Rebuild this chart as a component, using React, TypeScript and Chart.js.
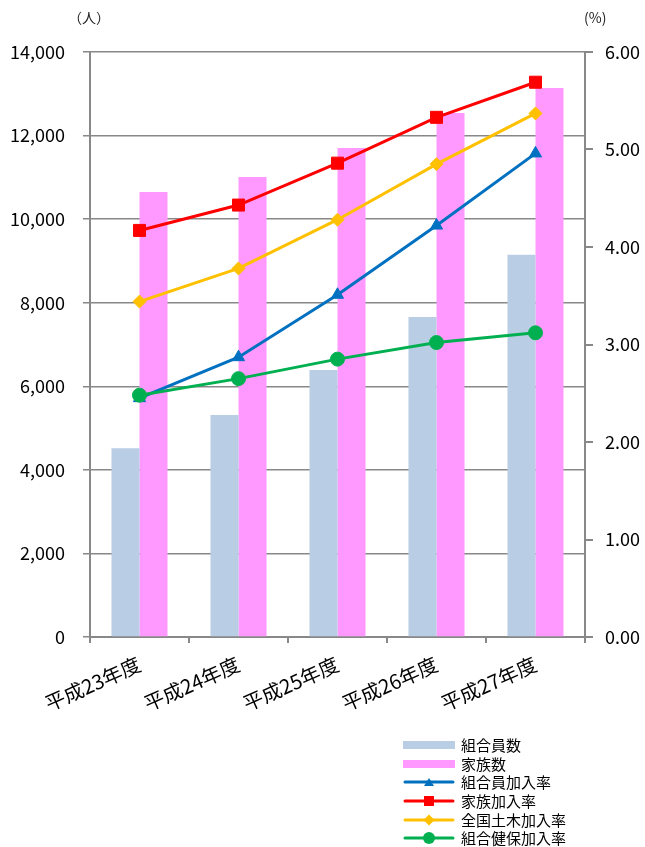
import React, { useEffect, useRef } from "react";
import { Chart, registerables } from "chart.js";

Chart.register(...registerables);

const categories = ["平成23年度", "平成24年度", "平成25年度", "平成26年度", "平成27年度"];
const memberCount = [4520, 5310, 6390, 7660, 9150];
const familyCount = [10650, 11010, 11700, 12540, 13140];
const memberRate = [2.45, 2.87, 3.51, 4.22, 4.96];
const familyRate = [4.17, 4.43, 4.86, 5.33, 5.69];
const nationalRate = [3.44, 3.78, 4.28, 4.85, 5.37];
const healthRate = [2.48, 2.65, 2.85, 3.02, 3.12];
const leftTicks = { min: 0, max: 14000, step: 2000 };
const rightTicks = { min: 0, max: 6, step: 1 };

const FONT = '"Noto Sans CJK JP", "Noto Sans", sans-serif';
const AXIS = "#888888";

const legendItems = [
  { label: "組合員数", color: "#B9CDE5", kind: "bar" },
  { label: "家族数", color: "#FF99FF", kind: "bar" },
  { label: "組合員加入率", color: "#0070C0", kind: "triangle" },
  { label: "家族加入率", color: "#FF0000", kind: "rect" },
  { label: "全国土木加入率", color: "#FFC000", kind: "diamond" },
  { label: "組合健保加入率", color: "#00B050", kind: "circle" },
];

function Marker({ kind, color }: { kind: string; color: string }) {
  if (kind === "bar") {
    return (
      <svg width={52} height={14}>
        <rect x={0} y={3} width={52} height={8} fill={color} />
      </svg>
    );
  }
  let shape: any = null;
  if (kind === "triangle") shape = <polygon points="26,3 31,11 21,11" fill={color} />;
  if (kind === "rect") shape = <rect x={21} y={2} width={10} height={10} fill={color} />;
  if (kind === "diamond") shape = <polygon points="26,1.5 31.5,7 26,12.5 20.5,7" fill={color} />;
  if (kind === "circle") shape = <circle cx={26} cy={7} r={6} fill={color} />;
  return (
    <svg width={52} height={14}>
      <line x1={2} y1={7} x2={50} y2={7} stroke={color} strokeWidth={3} strokeLinecap="round" />
      {shape}
    </svg>
  );
}

export default function App() {
  const ref = useRef<HTMLCanvasElement | null>(null);

  useEffect(() => {
    if (!ref.current) return;
    const lineDs = (label: string, data: number[], color: string, style: any, radius: number, order: number) => ({
      type: "line" as const,
      label,
      data,
      yAxisID: "y1",
      borderColor: color,
      backgroundColor: color,
      pointBackgroundColor: color,
      pointBorderColor: color,
      pointStyle: style,
      pointRadius: radius,
      pointBorderWidth: 1,
      borderWidth: 3,
      tension: 0,
      order,
    });
    const chart = new Chart(ref.current, {
      type: "bar",
      data: {
        labels: categories,
        datasets: [
          lineDs("組合健保加入率", healthRate, "#00B050", "circle", 7, 1),
          lineDs("全国土木加入率", nationalRate, "#FFC000", "rectRot", 6.5, 2),
          lineDs("家族加入率", familyRate, "#FF0000", "rect", 8.5, 3),
          lineDs("組合員加入率", memberRate, "#0070C0", "triangle", 7, 4),
          {
            type: "bar" as const,
            label: "組合員数",
            data: memberCount,
            yAxisID: "y",
            backgroundColor: "#B9CDE5",
            categoryPercentage: 0.566,
            barPercentage: 1.0,
            order: 10,
          },
          {
            type: "bar" as const,
            label: "家族数",
            data: familyCount,
            yAxisID: "y",
            backgroundColor: "#FF99FF",
            categoryPercentage: 0.566,
            barPercentage: 1.0,
            order: 11,
          },
        ] as any,
      },
      options: {
        animation: false,
        responsive: false,
        maintainAspectRatio: false,
        layout: { padding: { top: 52, left: 0, right: 0, bottom: 0 } },
        plugins: { legend: { display: false }, tooltip: { enabled: false } },
        scales: {
          x: {
            offset: true,
            grid: { display: true, offset: true, drawOnChartArea: false, color: AXIS, lineWidth: 2, tickLength: 6 },
            border: { display: true, color: AXIS, width: 2 },
            ticks: {
              color: "#000",
              font: { family: FONT, size: 20 },
              minRotation: 24,
              maxRotation: 24,
              padding: 9,
            },
            afterFit: (s: any) => {
              s.height = 847 - 637;
            },
          },
          y: {
            position: "left",
            min: leftTicks.min,
            max: leftTicks.max,
            ticks: {
              stepSize: leftTicks.step,
              color: "#000",
              font: { family: FONT, size: 18 },
              padding: 18,
              callback: (v: any) => String(v).replace(/\B(?=(\d{3})+(?!\d))/g, ","),
            },
            grid: { color: AXIS, lineWidth: 1.5, tickLength: 7 },
            border: { display: true, color: AXIS, width: 2 },
            afterFit: (s: any) => {
              s.width = 90;
            },
          },
          y1: {
            position: "right",
            min: rightTicks.min,
            max: rightTicks.max,
            ticks: {
              stepSize: rightTicks.step,
              color: "#000",
              font: { family: FONT, size: 18 },
              padding: 12,
              callback: (v: any) => Number(v).toFixed(2),
            },
            grid: { drawOnChartArea: false, color: AXIS, lineWidth: 2, tickLength: 8 },
            border: { display: true, color: AXIS, width: 2 },
            afterFit: (s: any) => {
              s.width = 60;
            },
          },
        },
      } as any,
    });
    return () => chart.destroy();
  }, []);

  return (
    <div style={{ position: "absolute", left: 0, top: 0, width: 645, height: 847, background: "#fff", fontFamily: FONT }}>
      <canvas ref={ref} width={645} height={847} style={{ position: "absolute", left: 0, top: 0, width: 645, height: 847 }} />
      <div style={{ position: "absolute", left: 68, top: 7, fontSize: 14, color: "#222" }}>（人）</div>
      <div style={{ position: "absolute", left: 584, top: 7, fontSize: 14, color: "#222" }}>(%)</div>
      <div style={{ position: "absolute", left: 403, top: 736 }}>
        {legendItems.map((it) => (
          <div key={it.label} style={{ display: "flex", alignItems: "center", height: 18.6 }}>
            <Marker kind={it.kind} color={it.color} />
            <span style={{ marginLeft: 6, fontSize: 15, lineHeight: "18px", color: "#000", whiteSpace: "nowrap" }}>{it.label}</span>
          </div>
        ))}
      </div>
    </div>
  );
}
